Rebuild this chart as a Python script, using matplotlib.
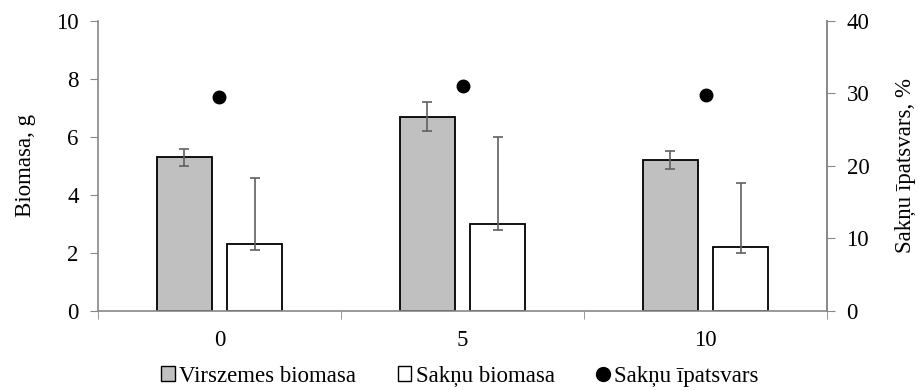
import numpy as np
import matplotlib
matplotlib.use("Agg")
from matplotlib import pyplot as plt
from matplotlib.lines import Line2D
from matplotlib.patches import Patch

plt.rcParams['font.family'] = ['Liberation Serif', 'DejaVu Serif']
plt.rcParams['font.size'] = 16.5

# dati
categories = ['0', '5', '10']
virszemes = [5.3, 6.7, 5.2]
virszemes_err = [0.3, 0.5, 0.3]
saknu = [2.3, 3.0, 2.2]
saknu_err_low = [0.2, 0.2, 0.2]
saknu_err_high = [2.3, 3.0, 2.2]
ipatsvars = [29.5, 31.1, 29.8]
ipatsvars_err = [0.3, 0.4, 0.3]

x = np.arange(len(categories))
w = 0.225
off = 0.145
axis_grey = '#888888'
err_grey = '#606060'

fig = plt.figure(figsize=(9.2, 3.9), dpi=100)
ax = fig.add_axes([0.1065, 0.2026, 0.7925, 0.7436])

ax.bar(x - off, virszemes, w, color='#c0c0c0', edgecolor='black', linewidth=1.3, zorder=2)
ax.errorbar(x - off, virszemes, yerr=virszemes_err, fmt='none', ecolor=err_grey,
            elinewidth=1.2, capsize=3.5, capthick=1.2, zorder=3)
ax.bar(x + off, saknu, w, color='white', edgecolor='black', linewidth=1.3, zorder=2)
ax.errorbar(x + off, saknu, yerr=[saknu_err_low, saknu_err_high], fmt='none',
            ecolor=err_grey, elinewidth=1.2, capsize=3.5, capthick=1.2, zorder=3)

ax.set_xlim(-0.5, 2.5)
ax.set_ylim(0, 10)
ax.set_yticks([0, 2, 4, 6, 8, 10])
ax.set_xticks(x)
ax.set_xticklabels(categories)
ax.set_xticks([-0.5, 0.5, 1.5, 2.5], minor=True)
ax.tick_params(axis='x', which='major', length=0, pad=14)
ax.tick_params(axis='x', which='minor', length=6, color=axis_grey, direction='out')
ax.tick_params(axis='y', length=6, color=axis_grey, direction='out', pad=8)
ax.set_ylabel('Biomasa, g', labelpad=14)
ax.spines['top'].set_visible(False)
for s in ['left', 'bottom', 'right']:
    ax.spines[s].set_color(axis_grey)
    ax.spines[s].set_linewidth(1.2)

ax2 = ax.twinx()
ax2.errorbar(x, ipatsvars, yerr=ipatsvars_err, fmt='o', color='black', markersize=9,
             ecolor=err_grey, elinewidth=1.2, capsize=3.5, capthick=1.2, zorder=4)
ax2.set_ylim(0, 40)
ax2.set_yticks([0, 10, 20, 30, 40])
ax2.tick_params(axis='y', length=6, color=axis_grey, direction='out', pad=8)
ax2.set_ylabel('Sakņu īpatsvars, %', labelpad=18)
for s in ['top', 'left', 'bottom']:
    ax2.spines[s].set_visible(False)
ax2.spines['right'].set_color(axis_grey)
ax2.spines['right'].set_linewidth(1.2)

handles = [
    Patch(facecolor='#c0c0c0', edgecolor='black', linewidth=1.0),
    Patch(facecolor='white', edgecolor='black', linewidth=1.0),
    Line2D([], [], marker='o', color='black', linestyle='none', markersize=10),
]
labels = ['Virszemes biomasa', 'Sakņu biomasa', 'Sakņu īpatsvars']
fig.legend(handles, labels, loc='lower center', bbox_to_anchor=(0.5, -0.045), ncol=3,
           frameon=False, handlelength=0.6, handleheight=0.6, handletextpad=0.2,
           columnspacing=1.8)

fig.savefig('out.png', dpi=100)
